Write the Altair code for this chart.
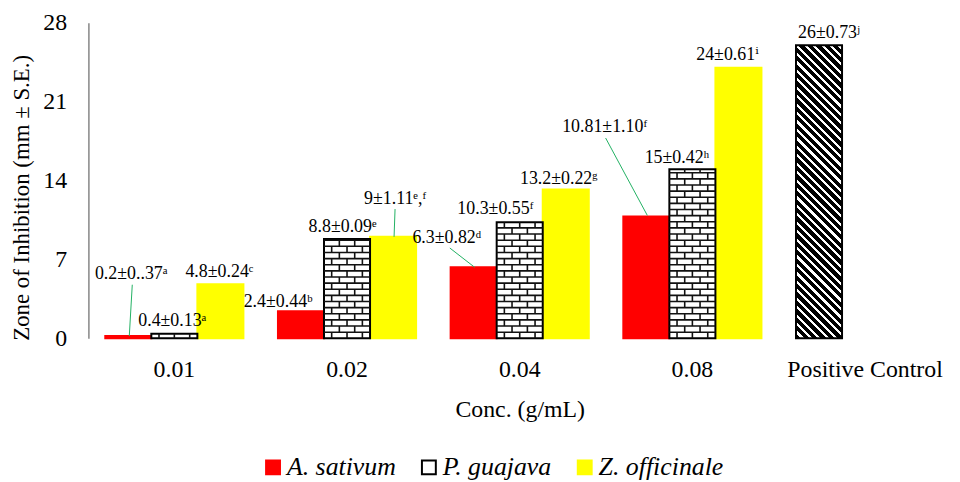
import altair as alt
import pandas as pd

# ---------------- data ----------------
concs = ["0.01", "0.02", "0.04", "0.08"]
series = ["A. sativum", "P. guajava", "Z. officinale"]
a_sativum = [0.2, 2.4, 6.3, 10.81]
p_guajava = [0.4, 8.8, 10.3, 15.0]
z_officinale = [4.8, 9.0, 13.2, 24.0]
a_labels = ["0.2±0..37ᵃ", "2.4±0.44ᵇ", "6.3±0.82ᵈ", "10.81±1.10ᶠ"]
p_labels = ["0.4±0.13ᵃ", "8.8±0.09ᵉ", "10.3±0.55ᶠ", "15±0.42ʰ"]
z_labels = ["4.8±0.24ᶜ", "9±1.11ᵉ,ᶠ", "13.2±0.22ᵍ", "24±0.61ⁱ"]
control_name = "Positive Control"
control_value = 26.0
control_label = "26±0.73ʲ"
y_ticks = [0, 7, 14, 21, 28]

# ---------------- layout / style ----------------
W, H = 869, 318
YMAX = 28
PAD_INNER, PAD_OUTER = 0.2, 0.0977
cats = concs + [control_name]
TOTAL = len(cats) - PAD_INNER + 2 * PAD_OUTER
STEP = W / TOTAL
SLOT = (1 - PAD_INNER) / len(series)
PPU = H / YMAX
FONT = "Liberation Serif, Times New Roman, DejaVu Serif, serif"
RED, YELLOW, GREEN = "#FF0000", "#FFFF00", "#22B063"
BRICK_H = 0.544

# label offsets (px) from bar centre / bar top, to text middle
LABEL_OFFSETS = {
    ("0.01", "A. sativum"): (3, -62.7),
    ("0.01", "P. guajava"): (-2, -12.5),
    ("0.01", "Z. officinale"): (-1, -12.5),
    ("0.02", "A. sativum"): (-23, -9.7),
    ("0.02", "P. guajava"): (-4.5, -12),
    ("0.02", "Z. officinale"): (2, -37.8),
    ("0.04", "A. sativum"): (-27, -29.4),
    ("0.04", "P. guajava"): (-24.5, -13),
    ("0.04", "Z. officinale"): (-7, -11),
    ("0.08", "A. sativum"): (-42, -90),
    ("0.08", "P. guajava"): (-15.5, -11.6),
    ("0.08", "Z. officinale"): (-11, -12.4),
    (control_name, "A. sativum"): (10, -12.6),
}
# leader lines: start (dx, dy) and end (dx, dy) in px from bar centre / top
LEADERS = {
    ("0.01", "A. sativum"): (4, -51.7, 1, 0),
    ("0.02", "Z. officinale"): (2, -28, 1, 0),
    ("0.04", "A. sativum"): (-24, -19.4, 1, 0),
    ("0.08", "A. sativum"): (-41, -79, 1, -1),
}

# ---------------- tables ----------------
vals = {series[0]: a_sativum, series[1]: p_guajava, series[2]: z_officinale}
labs = {series[0]: a_labels, series[1]: p_labels, series[2]: z_labels}
rows = []
for s in [series[0], series[2], series[1]]:
    for ci, c in enumerate(concs):
        rows.append(dict(conc=c, series=s, value=vals[s][ci], label=labs[s][ci],
                         ci=ci, si=series.index(s)))
bars_df = pd.DataFrame(rows)
control_df = pd.DataFrame([dict(conc=control_name, series=series[0], value=control_value,
                                label=control_label, ci=len(concs), si=0)])
all_df = pd.concat([bars_df, control_df], ignore_index=True)


def slot_left(ci, si):
    return PAD_OUTER + ci + si * SLOT


lab_rows, lead_rows = [], []
for r in all_df.itertuples():
    cx = slot_left(r.ci, r.si) + SLOT / 2
    dx, dy = LABEL_OFFSETS[(r.conc, r.series)]
    lab_rows.append(dict(x=cx + dx / STEP, value=r.value - dy / PPU, text=r.label))
    if (r.conc, r.series) in LEADERS:
        sdx, sdy, edx, edy = LEADERS[(r.conc, r.series)]
        lead_rows.append(dict(x=cx + sdx / STEP, value=r.value - sdy / PPU,
                              x2=cx + edx / STEP, value2=r.value - edy / PPU))
label_df = pd.DataFrame(lab_rows)
leader_df = pd.DataFrame(lead_rows)

# brick pattern for P. guajava bars
brick_rows = []
for r in bars_df[bars_df.series == series[1]].itertuples():
    left = slot_left(r.ci, r.si)
    right = left + SLOT
    k = 0
    while k * BRICK_H < r.value:
        y0 = k * BRICK_H
        y1 = min((k + 1) * BRICK_H, r.value)
        if k > 0:
            brick_rows.append(dict(x=left, x2=right, value=y0, value2=y0))
        fr = [1 / 6, 1 / 2, 5 / 6] if k % 2 == 0 else [1 / 3, 2 / 3]
        if y1 - y0 > 0.12:
            for f in fr:
                xx = left + f * SLOT
                brick_rows.append(dict(x=xx, x2=xx, value=y0, value2=y1))
        k += 1
brick_df = pd.DataFrame(brick_rows)

# diagonal hatch gradient for positive control
Wb = SLOT * STEP
Hb = control_value * PPU
D = Wb ** 2 + Hb ** 2
period = 8.5 / (Wb + Hb)
stops = []
o = 0.0
while o < 1:
    b_end = min(o + 0.62 * period, 1.0)
    stops += [{"offset": o, "color": "black"}, {"offset": b_end, "color": "black"}]
    if b_end < 1:
        w_end = min(o + period, 1.0)
        stops += [{"offset": b_end, "color": "white"}, {"offset": w_end, "color": "white"}]
    o += period
hatch = {"gradient": "linear", "x1": 0, "y1": 1,
         "x2": Wb * (Wb + Hb) / D, "y2": 1 - Hb * (Wb + Hb) / D, "stops": stops}

# ---------------- encodings ----------------
x_scale = alt.Scale(domain=cats, paddingInner=PAD_INNER, paddingOuter=PAD_OUTER)
xo_scale = alt.Scale(domain=series)
y_scale = alt.Scale(domain=[0, YMAX], nice=False, zero=True)

x_axis = alt.Axis(domain=False, ticks=False, labelAngle=0, labelFontSize=24, labelPadding=19,
                  labelLimit=300, title="Conc. (g/mL)", titleFontSize=24, titleFontWeight="normal",
                  titleY=79, titleBaseline="alphabetic", grid=False)
y_axis = alt.Axis(values=y_ticks, domain=True, domainColor="#868686", domainWidth=1.5, ticks=False,
                  grid=False, labelFontSize=24, labelPadding=22,
                  title="Zone of Inhibition (mm ± S.E.)", titleFontSize=23, titleFontWeight="normal",
                  titleAngle=270, titleX=-60.5, titleY=176, titleAlign="center",
                  titleBaseline="alphabetic")
leg = alt.Legend(title=None, orient="none", legendX=173, legendY=435, direction="horizontal",
                 columnPadding=20, labelOffset=1, symbolType="square", symbolSize=196,
                 labelFont=FONT, labelFontSize=26, labelFontStyle="italic", symbolStrokeWidth=2,
                 padding=0)

Y = alt.Y("value:Q", scale=y_scale, axis=y_axis)
XB = alt.X("conc:N", scale=x_scale, axis=x_axis)

bars = alt.Chart(bars_df).mark_bar(strokeWidth=2).encode(
    x=XB,
    xOffset=alt.XOffset("series:N", scale=xo_scale),
    y=Y,
    color=alt.Color("series:N", scale=alt.Scale(domain=series, range=[RED, "#FFFFFF", YELLOW]), legend=leg),
    stroke=alt.Stroke("series:N", scale=alt.Scale(domain=series, range=[RED, "#000000", YELLOW]), legend=leg),
)
control = alt.Chart(control_df).mark_bar(fill=hatch, stroke="black", strokeWidth=2).encode(
    x=XB,
    xOffset=alt.XOffset("series:N", scale=xo_scale),
    y=Y,
)

ox = alt.Scale(domain=[0, TOTAL], nice=False, zero=False)
bricks = alt.Chart(brick_df).mark_rule(color="#111111", strokeWidth=1.6).encode(
    x=alt.X("x:Q", scale=ox, axis=None), x2="x2:Q", y=Y, y2="value2:Q")
leaders = alt.Chart(leader_df).mark_rule(color=GREEN, strokeWidth=1).encode(
    x=alt.X("x:Q", scale=ox, axis=None), x2="x2:Q", y=Y, y2="value2:Q")
labels = alt.Chart(label_df).mark_text(font=FONT, fontSize=18, align="center", baseline="middle",
                                       color="black").encode(
    x=alt.X("x:Q", scale=ox, axis=None), y=Y, text="text:N")

chart = alt.layer(
    alt.layer(bars, control),
    alt.layer(bricks, leaders, labels),
).resolve_scale(x="independent").properties(
    width=W, height=H,
    padding={"left": 81, "top": 13, "right": 1, "bottom": 143},
    autosize=alt.AutoSizeParams(type="none"),
).configure(font=FONT).configure_view(stroke=None).configure_axis(
    labelFont=FONT, titleFont=FONT, labelColor="black", titleColor="black"
).configure_legend(labelFont=FONT).configure_text(font=FONT)

chart.save("out.html", embed_options={"renderer": "svg", "actions": False})
